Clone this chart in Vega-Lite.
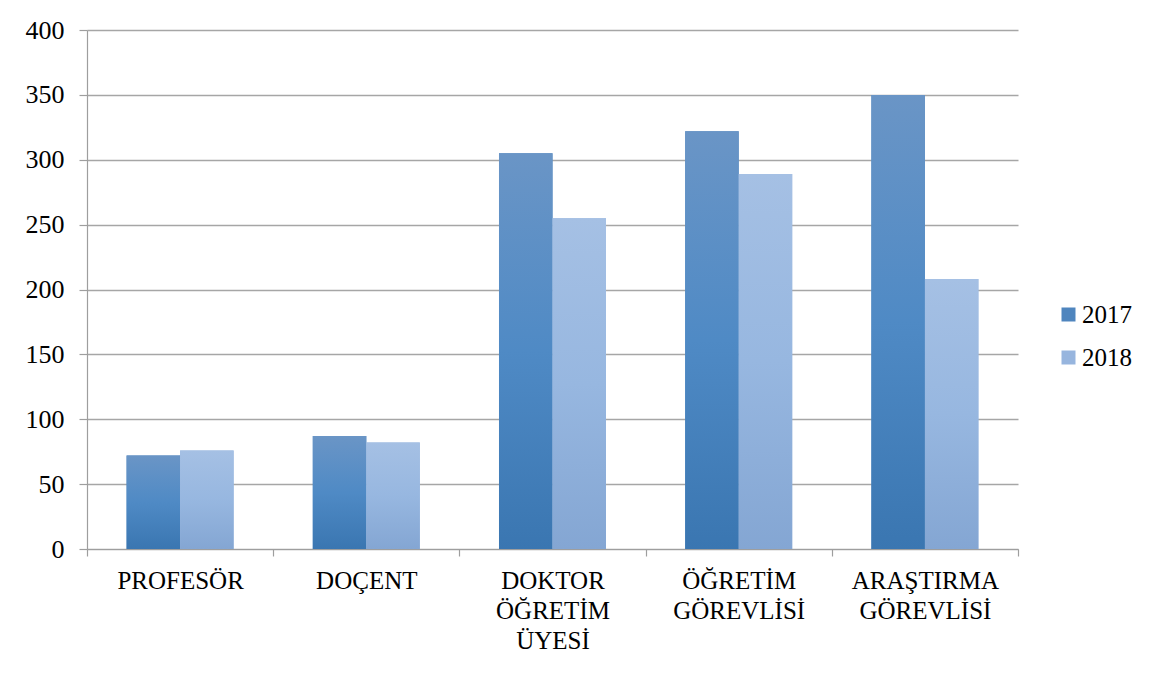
{
  "$schema": "https://vega.github.io/schema/vega-lite/v6.json",
  "width": 931,
  "height": 519,
  "autosize": {"type": "none"},
  "padding": {"left": 87, "top": 30, "right": 147, "bottom": 128},
  "background": "white",
  "data": {
    "values": [
      {"kadro": "PROFESÖR", "yil": "2017", "sayi": 72},
      {"kadro": "PROFESÖR", "yil": "2018", "sayi": 76},
      {"kadro": "DOÇENT", "yil": "2017", "sayi": 87},
      {"kadro": "DOÇENT", "yil": "2018", "sayi": 82},
      {"kadro": "DOKTOR ÖĞRETİM ÜYESİ", "yil": "2017", "sayi": 305},
      {"kadro": "DOKTOR ÖĞRETİM ÜYESİ", "yil": "2018", "sayi": 255},
      {"kadro": "ÖĞRETİM GÖREVLİSİ", "yil": "2017", "sayi": 322},
      {"kadro": "ÖĞRETİM GÖREVLİSİ", "yil": "2018", "sayi": 289},
      {"kadro": "ARAŞTIRMA GÖREVLİSİ", "yil": "2017", "sayi": 350},
      {"kadro": "ARAŞTIRMA GÖREVLİSİ", "yil": "2018", "sayi": 208}
    ]
  },
  "encoding": {
    "x": {
      "field": "kadro",
      "type": "nominal",
      "sort": null,
      "title": null,
      "scale": {"paddingInner": 0, "paddingOuter": 0},
      "axis": {
        "labelAngle": 0,
        "tickBand": "extent",
        "tickSize": 7,
        "labelFont": "Liberation Serif",
        "labelExpr": "split(datum.label, ' ')",
        "labelLineHeight": 30,
        "labelBaseline": "top",
        "labelPadding": 12
      }
    },
    "xOffset": {
      "field": "yil",
      "type": "nominal",
      "scale": {"paddingInner": 0, "paddingOuter": 0.74}
    },
    "y": {
      "field": "sayi",
      "type": "quantitative",
      "title": null,
      "scale": {"domain": [0, 400]},
      "axis": {
        "values": [0, 50, 100, 150, 200, 250, 300, 350, 400],
        "grid": true,
        "tickSize": 8,
        "labelFont": "Liberation Serif",
        "labelFontSize": 26,
        "labelPadding": 15
      }
    }
  },
  "layer": [
    {
      "mark": {"type": "bar", "strokeWidth": 0},
      "encoding": {
        "color": {
          "field": "yil",
          "type": "nominal",
          "scale": {"range": ["#4F85BE", "#97B5DE"]},
          "legend": {
            "title": null,
            "orient": "none",
            "legendX": 969,
            "legendY": 272,
            "symbolType": "square",
            "symbolSize": 196,
            "symbolStrokeWidth": 0,
            "symbolOpacity": 1,
            "labelFont": "Liberation Serif",
            "labelFontSize": 25,
            "labelOffset": 1,
            "rowPadding": 17
          }
        }
      }
    },
    {
      "mark": {"type": "bar", "strokeWidth": 0},
      "encoding": {
        "fill": {
          "condition": {
            "test": "datum.yil === '2017'",
            "value": {"gradient": "linear", "x1": 0, "y1": 0, "x2": 0, "y2": 1,
              "stops": [{"offset": 0, "color": "#6A95C6"}, {"offset": 0.5, "color": "#4F8AC5"}, {"offset": 1, "color": "#3A76B1"}]}
          },
          "value": {"gradient": "linear", "x1": 0, "y1": 0, "x2": 0, "y2": 1,
            "stops": [{"offset": 0, "color": "#A5C0E4"}, {"offset": 0.5, "color": "#97B7E0"}, {"offset": 1, "color": "#84A6D3"}]}
        }
      }
    }
  ],
  "config": {
    "font": "Liberation Serif",
    "view": {"stroke": null},
    "axis": {
      "labelFont": "Liberation Serif",
      "labelFontSize": 25,
      "labelColor": "#000000",
      "domainColor": "#9E9E9E",
      "tickColor": "#9E9E9E",
      "gridColor": "#A6A6A6",
      "gridWidth": 1.5,
      "domainWidth": 1.2,
      "tickWidth": 1.2
    },
    "axisX": {"grid": false},
    "legend": {
      "labelFont": "Liberation Serif",
      "labelFontSize": 25,
      "labelColor": "#000000"
    }
  }
}
